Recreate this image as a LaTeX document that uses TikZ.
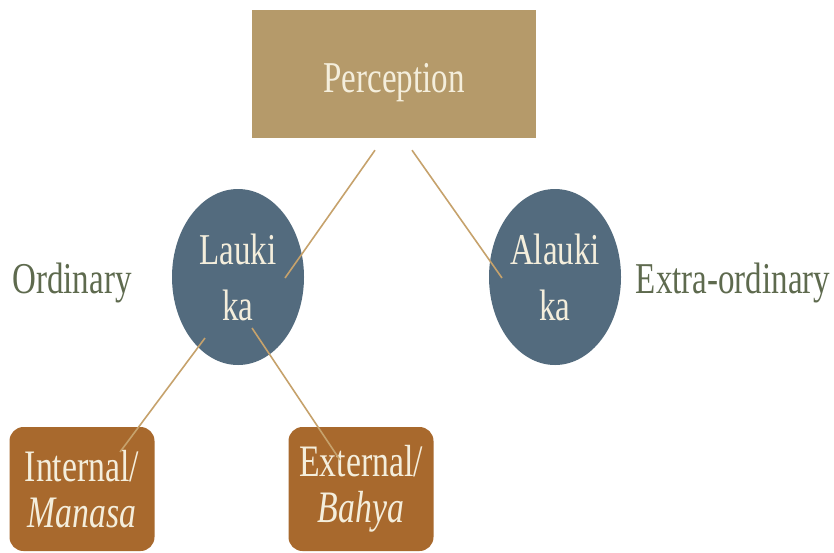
\documentclass[tikz,border=0pt]{standalone}
\usepackage{fontspec}
\setmainfont{Liberation Serif}[FakeStretch=0.75]
\usetikzlibrary{shapes.geometric}
\definecolor{tanbox}{HTML}{B59A6A}
\definecolor{slate}{HTML}{536B7E}
\definecolor{rust}{HTML}{A8692D}
\definecolor{cream}{HTML}{F4EEDC}
\definecolor{olive}{HTML}{5E6A4E}
\definecolor{link}{HTML}{C6A26C}

\begin{document}
\begin{tikzpicture}
  [x=1pt,y=-1pt,
   every node/.style={font=\fontsize{44}{50}\selectfont,inner sep=0pt},
   topbox/.style={rectangle,fill=tanbox,text=cream,minimum width=284pt,minimum height=128pt,text height=36pt,text depth=0pt},
   kind/.style={ellipse,fill=slate,text=cream,minimum width=132pt,minimum height=176pt,align=center},
   leaf/.style={rectangle,rounded corners=14pt,fill=rust,text=cream,minimum width=145pt,minimum height=124pt,align=center,font=\fontsize{45}{46}\selectfont},
   side/.style={text=olive},
   link/.style={draw=link,line width=1.6pt}]
  \useasboundingbox (0,0) rectangle (834,552);

  \node[topbox] (perc)  at (394,74)  {Perception};
  \node[kind]   (lauk)  at (238,277) {Lauki\\[6pt]ka};
  \node[kind]   (alauk) at (555,277) {Alauki\\[6pt]ka};
  \node[leaf]   (inter) at (82,489)  {Internal/\\\textit{Manasa}};
  \node[leaf]   (exter) at (361,489) {External/\\\textit{Bahya}};
  \node[side]   (ord)   at (72,283)  {Ordinary};
  \node[side]   (extra) at (733,283) {Extra-ordinary};

  % connectors stop short of the nodes' edges
  \draw[link] ([shift={(-19,12)}]perc.south) -- ([shift={(47,1)}]lauk.center);
  \draw[link] ([shift={(18,12)}]perc.south)  -- ([shift={(-53,1)}]alauk.center);
  \draw[link] ([shift={(-33,61)}]lauk.center) -- ([shift={(38,-37)}]inter.center);
  \draw[link] ([shift={(14,51)}]lauk.center)  -- ([shift={(-21,-29)}]exter.center);

\end{tikzpicture}
\end{document}
